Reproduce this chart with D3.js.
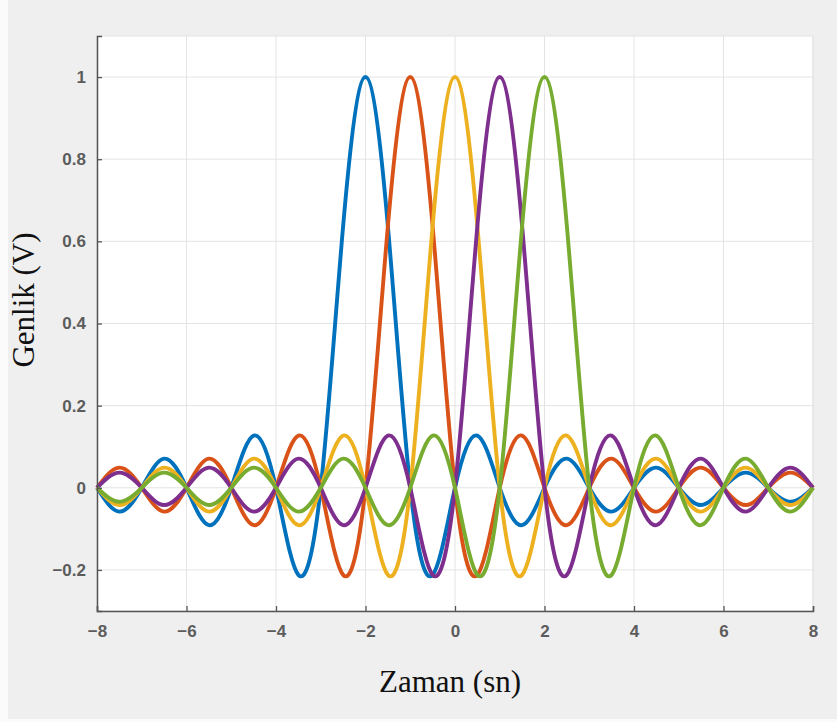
<!DOCTYPE html>
<html>
<head>
<meta charset="utf-8">
<script src="https://cdn.jsdelivr.net/npm/d3@7"></script>
<style>
  body { margin: 0; background: #fbfbfb; }
  .tick text { font-family: "Liberation Sans", Arial, sans-serif; font-size: 17px; font-weight: bold; fill: #5c5c5c; }
  .axis-title { font-family: "Liberation Serif", "Times New Roman", serif; font-size: 31px; fill: #111; }
</style>
</head>
<body>
<div id="chart"></div>
<script>
// time axis (s), sampled every half second
var times = [-8, -7.5, -7, -6.5, -6, -5.5, -5, -4.5, -4, -3.5, -3, -2.5, -2, -1.5, -1, -0.5,
             0, 0.5, 1, 1.5, 2, 2.5, 3, 3.5, 4, 4.5, 5, 5.5, 6, 6.5, 7, 7.5, 8];

// amplitude readings for each pulse (centred at -2, -1, 0, 1, 2)
var pulseA = [0, -0.058, 0, 0.071, 0, -0.091, 0, 0.127, 0, -0.212, 0, 0.637, 1, 0.637, 0, -0.212,
              0, 0.127, 0, -0.091, 0, 0.071, 0, -0.058, 0, 0.049, 0, -0.042, 0, 0.037, 0, -0.034, 0];
var pulseB = [0, 0.049, 0, -0.058, 0, 0.071, 0, -0.091, 0, 0.127, 0, -0.212, 0, 0.637, 1, 0.637,
              0, -0.212, 0, 0.127, 0, -0.091, 0, 0.071, 0, -0.058, 0, 0.049, 0, -0.042, 0, 0.037, 0];
var pulseC = [0, -0.042, 0, 0.049, 0, -0.058, 0, 0.071, 0, -0.091, 0, 0.127, 0, -0.212, 0, 0.637,
              1, 0.637, 0, -0.212, 0, 0.127, 0, -0.091, 0, 0.071, 0, -0.058, 0, 0.049, 0, -0.042, 0];
var pulseD = [0, 0.037, 0, -0.042, 0, 0.049, 0, -0.058, 0, 0.071, 0, -0.091, 0, 0.127, 0, -0.212,
              0, 0.637, 1, 0.637, 0, -0.212, 0, 0.127, 0, -0.091, 0, 0.071, 0, -0.058, 0, 0.049, 0];
var pulseE = [0, -0.034, 0, 0.037, 0, -0.042, 0, 0.049, 0, -0.058, 0, 0.071, 0, -0.091, 0, 0.127,
              0, -0.212, 0, 0.637, 1, 0.637, 0, -0.212, 0, 0.127, 0, -0.091, 0, 0.071, 0, -0.058, 0];

var colors = ["#0072BD", "#D95319", "#EDB120", "#7E2F8E", "#77AC30"];
var xTicks = [-8, -6, -4, -2, 0, 2, 4, 6, 8];
var yTicks = [-0.2, 0, 0.2, 0.4, 0.6, 0.8, 1];

var series = [pulseA, pulseB, pulseC, pulseD, pulseE];

var width = 837, height = 722;
var m = [36, 24, 111, 97]; // top, right, bottom, left
var w = width - m[1] - m[3];
var h = height - m[0] - m[2];

var svg = d3.select("#chart").append("svg")
  .attr("width", width)
  .attr("height", height);

svg.append("rect")
  .attr("x", 8).attr("y", 0)
  .attr("width", width - 8).attr("height", 719)
  .attr("fill", "#efefef");

var x = d3.scaleLinear().domain([-8, 8]).range([0, w]);
var y = d3.scaleLinear().domain([-0.3, 1.1]).range([h, 0]);

var g = svg.append("g")
  .attr("transform", "translate(" + m[3] + "," + m[0] + ")");

g.append("rect")
  .attr("width", w)
  .attr("height", h)
  .attr("fill", "#fff")
  .attr("stroke", "#e4e4e4");

// grid
g.append("g").selectAll("line")
  .data(xTicks)
  .enter().append("line")
  .attr("x1", function(d) { return x(d); })
  .attr("x2", function(d) { return x(d); })
  .attr("y1", 0).attr("y2", h)
  .attr("stroke", "#e4e4e4");

g.append("g").selectAll("line")
  .data(yTicks)
  .enter().append("line")
  .attr("x1", 0).attr("x2", w)
  .attr("y1", function(d) { return y(d); })
  .attr("y2", function(d) { return y(d); })
  .attr("stroke", "#e4e4e4");

var line = d3.line()
  .x(function(d, i) { return x(times[i]); })
  .y(function(d) { return y(d); })
  .curve(d3.curveNatural);

g.append("g").selectAll("path")
  .data(series)
  .enter().append("path")
  .attr("d", line)
  .attr("fill", "none")
  .attr("stroke", function(d, i) { return colors[i]; })
  .attr("stroke-width", 3.9)
  .attr("stroke-linejoin", "round");

var fmt = d3.format("");

var gx = g.append("g")
  .attr("transform", "translate(0," + h + ")")
  .call(d3.axisBottom(x).tickValues(xTicks).tickSize(-5).tickPadding(14).tickFormat(fmt));

var gy = g.append("g")
  .call(d3.axisLeft(y).tickValues(yTicks).tickSize(-5).tickPadding(11).tickFormat(fmt));

[gx, gy].forEach(function(a) {
  a.select(".domain").attr("stroke", "#555").attr("stroke-width", 1.5);
  a.selectAll(".tick line").attr("stroke", "#555").attr("stroke-width", 1.3);
});

svg.append("text")
  .attr("class", "axis-title")
  .attr("x", 450)
  .attr("y", 692)
  .attr("text-anchor", "middle")
  .text("Zaman (sn)");

svg.append("text")
  .attr("class", "axis-title")
  .attr("transform", "translate(34,300) rotate(-90)")
  .attr("text-anchor", "middle")
  .text("Genlik (V)");
</script>
</body>
</html>
